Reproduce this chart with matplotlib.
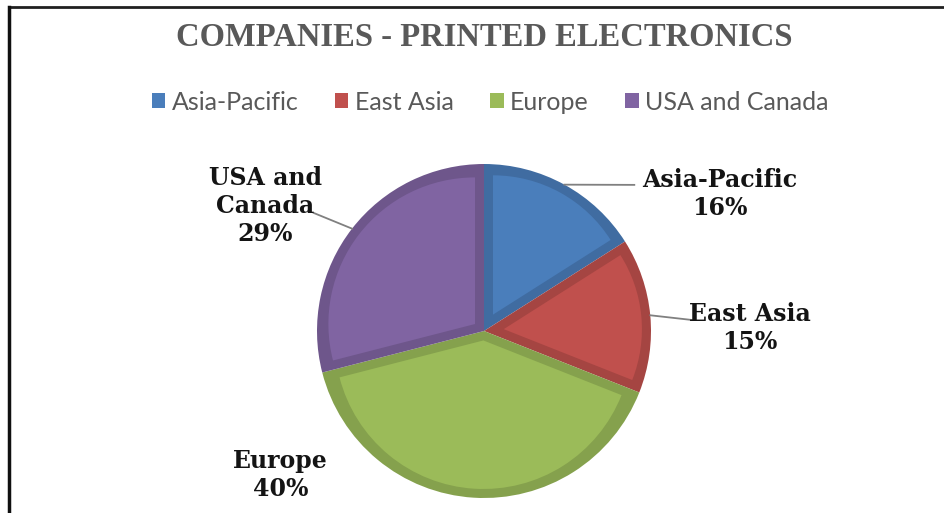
import numpy as np
import matplotlib
matplotlib.use("Agg")
import matplotlib.pyplot as plt
from matplotlib.patches import Patch, Wedge
from matplotlib.colors import to_rgb

regions = ["Asia-Pacific", "East Asia", "Europe", "USA and Canada"]
shares = [16, 15, 40, 29]
colors = ["#4a7ebb", "#c0504d", "#9bbb59", "#8064a2"]

# label centres and leader-line ends (data coords of the pie axes, radius 1)
label_pos = [(1.41, 0.82), (1.59, 0.02), (-1.22, -0.86), (-1.31, 0.75)]
leader_end = [(0.90, 0.875), (1.245, 0.066), None, (-1.02, 0.707)]


def darker(c, f=0.86):
    return tuple(v * f for v in to_rgb(c))


W, H = 945, 513
fig = plt.figure(figsize=(W / 100, H / 100), dpi=100)
fig.patch.set_facecolor("white")

# frame lines along top and left
fig.add_artist(plt.Line2D([9 / W, 1], [1 - 7 / H, 1 - 7 / H], color="#202020", lw=2))
fig.add_artist(plt.Line2D([9 / W, 9 / W], [0, 1 - 7 / H], color="#101010", lw=2.5))

cx, cy, r = 484, 331, 167
ax = fig.add_axes([(cx - r) / W, (H - cy - r) / H, 2 * r / W, 2 * r / H])

wedges, _ = ax.pie(shares, colors=[darker(c) for c in colors], startangle=90,
                   counterclock=False, radius=1, wedgeprops=dict(linewidth=0))
ax.set_xlim(-1, 1)
ax.set_ylim(-1, 1)
ax.set_aspect("equal")
ax.axis("off")

# lighter inner face: each slice shrunk about its incircle centre,
# leaving an even darker band along the edges
band = 9 / r
for w, c in zip(wedges, colors):
    half = np.deg2rad(abs(w.theta2 - w.theta1) / 2)
    mid = np.deg2rad((w.theta1 + w.theta2) / 2)
    s = np.sin(half)
    rho = s / (1 + s)
    inc = np.array([np.cos(mid), np.sin(mid)]) / (1 + s)
    k = 1 - band / rho
    ax.add_patch(Wedge(tuple(inc * (1 - k)), k, w.theta1, w.theta2,
                       facecolor=c, edgecolor="none"))

total = sum(shares)
for w, name, val, pos, end in zip(wedges, regions, shares, label_pos, leader_end):
    mid = np.deg2rad((w.theta1 + w.theta2) / 2)
    if end is not None:
        ax.plot([np.cos(mid), end[0]], [np.sin(mid), end[1]], color="#808080",
                lw=1.3, clip_on=False)
    pct = f"{val / total * 100:.0f}%"
    txt = "USA and\nCanada\n" + pct if name == "USA and Canada" else f"{name}\n{pct}"
    ax.text(pos[0], pos[1], txt, ha="center", va="center", fontsize=17,
            fontweight="bold", family="DejaVu Serif", color="#141414",
            linespacing=1.2, clip_on=False)

fig.text(484 / W, 1 - 38 / H, "COMPANIES - PRINTED ELECTRONICS", ha="center", va="center",
         fontsize=23.5, fontweight="bold", family="Liberation Serif", color="#595959")

handles = [Patch(facecolor=c, edgecolor="none") for c in colors]
fig.legend(handles, regions, loc="center", bbox_to_anchor=(490 / W, 1 - 102 / H),
           ncol=4, frameon=False, handlelength=0.55, handleheight=0.55,
           handletextpad=0.25, columnspacing=1.45,
           prop={"family": "Lato", "size": 18}, labelcolor="#595959")

fig.savefig("out.png", dpi=100)
plt.close(fig)
